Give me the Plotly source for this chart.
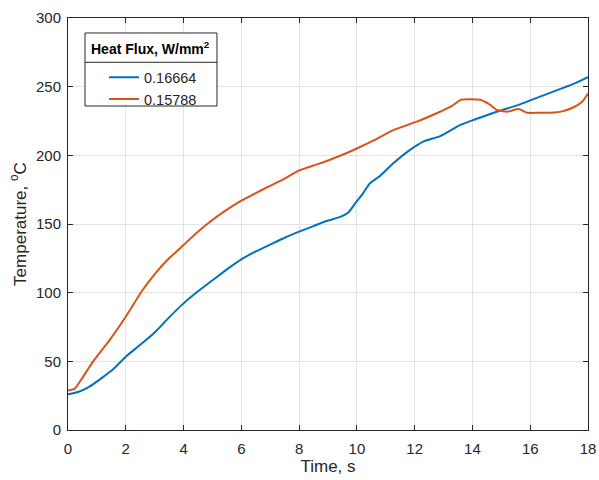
import plotly.graph_objects as go

t_blue = [0, 0.35, 0.7, 1.15, 1.6, 2, 2.5, 3, 3.5, 4, 4.5, 5, 5.5, 6, 6.5, 7, 7.5, 8, 8.5, 9, 9.4, 9.7, 9.94, 10.2, 10.45, 10.8, 11.26, 11.84, 12.3, 12.88, 13.57, 14.03, 14.95, 15.5, 16, 16.5, 17, 17.5, 18]
temp_blue = [26, 27.7, 31, 37.6, 45, 53.4, 62, 71, 82, 92.2, 101, 109, 117, 124.3, 130, 135, 140, 144.4, 148.5, 152.5, 155, 158.3, 165, 172, 179.6, 185, 194.2, 204, 210, 214, 222, 225.7, 232.5, 236, 240, 244, 248, 252, 257]

t_orange = [0, 0.23, 0.5, 0.87, 1.44, 2, 2.54, 3.06, 3.5, 4, 4.4, 4.85, 5.4, 6, 6.5, 6.92, 7.5, 8, 8.7, 9.4, 10, 10.6, 11.26, 12.07, 12.8, 13.3, 13.6, 14.26, 14.6, 14.84, 15.2, 15.6, 15.9, 16.3, 16.7, 17.1, 17.5, 17.8, 18]
temp_orange = [29, 30, 38, 50, 65.5, 82.5, 100.7, 115, 125, 134.7, 142.5, 150.5, 159, 167, 172.5, 177, 183, 189, 194, 199.5, 205, 211, 218.4, 224.5, 231, 236, 240.5, 240.5, 237, 233, 231.8, 233.7, 231, 231, 231, 232, 235, 239, 245]

series_names = ["0.16664", "0.15788"]
x_ticks = [0, 2, 4, 6, 8, 10, 12, 14, 16, 18]
y_ticks = [0, 50, 100, 150, 200, 250, 300]

FONT = "Liberation Sans, Arial"
fig = go.Figure()
fig.add_trace(go.Scatter(x=t_blue, y=temp_blue, mode="lines", name=series_names[0],
                         line=dict(color="#0072BD", width=2, shape="spline", smoothing=0.5)))
fig.add_trace(go.Scatter(x=t_orange, y=temp_orange, mode="lines", name=series_names[1],
                         line=dict(color="#D95319", width=2, shape="spline", smoothing=0.5)))

axis_common = dict(showline=True, linecolor="#262626", linewidth=1, mirror="ticks",
                   ticks="inside", ticklen=5, tickcolor="#262626", automargin=False,
                   showgrid=True, gridcolor="#E3E3E3", gridwidth=1, zeroline=False,
                   tickfont=dict(family=FONT, size=15, color="#262626"))

fig.update_xaxes(range=[0, 18], tickvals=x_ticks, ticklabelstandoff=5,
                 title=dict(text="Time, s", font=dict(family=FONT, size=17, color="#262626"), standoff=2),
                 **axis_common)
fig.update_yaxes(range=[0, 300], tickvals=y_ticks, ticklabelstandoff=3,
                 title=dict(text="Temperature, <sup>o</sup>C", font=dict(family=FONT, size=17, color="#262626"), standoff=5),
                 **axis_common)

# legend box geometry (paper coordinates)
lx0, lx1, ly0, ly1, lsep = 0.0327, 0.2865, 0.7864, 0.9636, 0.8925

fig.update_layout(
    width=599, height=480,
    margin=dict(l=68, r=11, t=18, b=50),
    paper_bgcolor="white", plot_bgcolor="white",
    showlegend=True,
    legend=dict(x=0.0692, y=0.895, xanchor="left", yanchor="top",
                bgcolor="rgba(0,0,0,0)", borderwidth=0,
                font=dict(family=FONT, size=14.5, color="#262626"),
                tracegroupgap=0),
    shapes=[
        dict(type="rect", xref="paper", yref="paper", x0=lx0, x1=lx1, y0=ly0, y1=ly1,
             line=dict(color="#262626", width=1), fillcolor="white", layer="above"),
        dict(type="line", xref="paper", yref="paper", x0=lx0, x1=lx1, y0=lsep, y1=lsep,
             line=dict(color="#262626", width=1), layer="above"),
    ],
    annotations=[
        dict(text="<b>Heat Flux, W/mm<sup>2</sup></b>", xref="paper", yref="paper",
             x=(lx0 + lx1) / 2, y=(ly1 + lsep) / 2, xanchor="center", yanchor="middle",
             showarrow=False, font=dict(family=FONT, size=14, color="black")),
    ],
)

fig.write_html("out.html", config={"displayModeBar": False},
               post_script="document.body.style.margin='0';document.body.style.overflow='hidden';")
